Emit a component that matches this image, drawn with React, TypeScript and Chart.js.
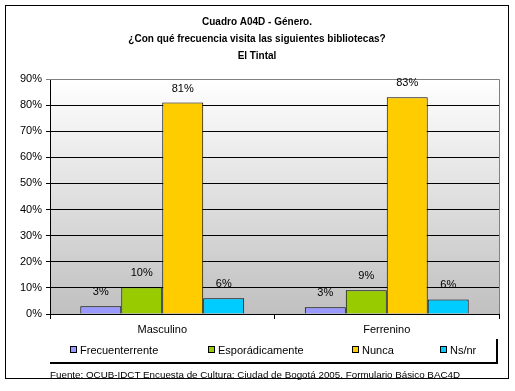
import React, { useEffect, useRef } from "react";
import { Chart, registerables } from "chart.js";

Chart.register(...registerables);

const categories = ["Masculino", "Ferrenino"];
const seriesNames = ["Frecuenterrente", "Esporádicamente", "Nunca", "Ns/nr"];
const frecuentemente = [3.0, 2.6];
const esporadicamente = [10.2, 9.1];
const nunca = [81, 83];
const nsnr = [6.0, 5.6];
const valueLabels = [
  ["3%", "3%"],
  ["10%", "9%"],
  ["81%", "83%"],
  ["6%", "6%"],
];
const seriesColors = ["#9999FF", "#99CC00", "#FFCC00", "#00CCFF"];
const titleLines = [
  "Cuadro A04D - Género.",
  "¿Con qué frecuencia visita las siguientes bibliotecas?",
  "El Tintal",
];
const sourceText =
  "Fuente: OCUB-IDCT Encuesta de Cultura: Ciudad de Bogotá 2005. Formulario Básico BAC4D";

const FONT = "'Liberation Sans', Arial, sans-serif";

const decorPlugin = {
  id: "decor",
  beforeDraw(chart: any) {
    const { ctx, chartArea: a } = chart;
    ctx.save();
    ctx.fillStyle = "#ffffff";
    ctx.fillRect(0, 0, chart.width, chart.height);
    const g = ctx.createLinearGradient(0, a.top, 0, a.bottom);
    g.addColorStop(0, "#ffffff");
    g.addColorStop(1, "#c0c0c0");
    ctx.fillStyle = g;
    ctx.fillRect(a.left, a.top, a.right - a.left, a.bottom - a.top);
    ctx.restore();
  },
  afterDraw(chart: any) {
    const { ctx, chartArea: a } = chart;
    ctx.save();
    ctx.strokeStyle = "#808080";
    ctx.lineWidth = 1;
    ctx.beginPath();
    ctx.moveTo(a.left, a.top + 0.5);
    ctx.lineTo(a.right + 0.5, a.top + 0.5);
    ctx.lineTo(a.right + 0.5, a.bottom);
    ctx.stroke();

    ctx.fillStyle = "#000";
    ctx.font = `11px ${FONT}`;
    ctx.textAlign = "center";
    ctx.textBaseline = "middle";
    chart.data.datasets.forEach((ds: any, di: number) => {
      const meta = chart.getDatasetMeta(di);
      meta.data.forEach((bar: any, i: number) => {
        ctx.fillText(valueLabels[di][i], bar.x, bar.y - 14);
      });
    });

    ctx.font = `bold 10px ${FONT}`;
    titleLines.forEach((t, i) => {
      ctx.fillText(t, 257, 22 + i * 17);
    });

    const lx = [70, 208, 352, 440];
    ctx.font = `11px ${FONT}`;
    ctx.textAlign = "left";
    chart.data.datasets.forEach((ds: any, di: number) => {
      ctx.fillStyle = ds.backgroundColor;
      ctx.fillRect(lx[di], 346, 7, 7);
      ctx.strokeStyle = "#000";
      ctx.lineWidth = 1;
      ctx.strokeRect(lx[di] + 0.5, 346.5, 6, 6);
      ctx.fillStyle = "#000";
      ctx.fillText(ds.label, lx[di] + 10, 350.5);
    });
    ctx.fillStyle = "#000";
    ctx.fillRect(50, 362, 448, 2);
    ctx.fillRect(496, 339, 2, 25);

    ctx.font = `9.8px ${FONT}`;
    ctx.fillText(sourceText, 50, 375);

    ctx.strokeStyle = "#000";
    ctx.lineWidth = 1;
    ctx.strokeRect(5.5, 5.5, 503, 373);
    ctx.restore();
  },
};

export default function App() {
  const ref = useRef<HTMLCanvasElement>(null);
  useEffect(() => {
    if (!ref.current) return;
    const data = [frecuentemente, esporadicamente, nunca, nsnr];
    const chart = new Chart(ref.current, {
      type: "bar",
      data: {
        labels: categories,
        datasets: data.map((d, i) => ({
          label: seriesNames[i],
          data: d,
          backgroundColor: seriesColors[i],
          borderColor: "#000000",
          borderWidth: 1,
          barPercentage: 1,
          categoryPercentage: 0.73,
        })),
      },
      options: {
        responsive: false,
        animation: false,
        layout: { padding: { left: 0, right: 16, top: 79, bottom: 0 } },
        plugins: {
          legend: { display: false },
          title: { display: false },
          tooltip: { enabled: false },
        },
        scales: {
          x: {
            grid: {
              offset: true,
              drawOnChartArea: false,
              drawTicks: true,
              tickLength: 5,
              color: "#000",
            },
            border: { color: "#000", width: 1 },
            ticks: { color: "#000", font: { family: FONT, size: 11 }, padding: 4 },
            afterFit: (s: any) => {
              s.height = 77;
            },
          },
          y: {
            min: 0,
            max: 90,
            ticks: {
              stepSize: 10,
              color: "#000",
              font: { family: FONT, size: 11 },
              padding: 4,
              callback: (v: any) => `${v}%`,
            },
            grid: {
              color: (c: any) => (c.tick && c.tick.value === 90 ? "#808080" : "#000000"),
              tickLength: 4,
            },
            border: { color: "#000", width: 1 },
            afterFit: (s: any) => {
              s.width = 50;
            },
          },
        },
      },
      plugins: [decorPlugin],
    });
    return () => chart.destroy();
  }, []);
  return (
    <div style={{ position: "fixed", left: 0, top: 0, width: 515, height: 391, background: "#fff" }}>
      <canvas ref={ref} width={515} height={391} />
    </div>
  );
}
